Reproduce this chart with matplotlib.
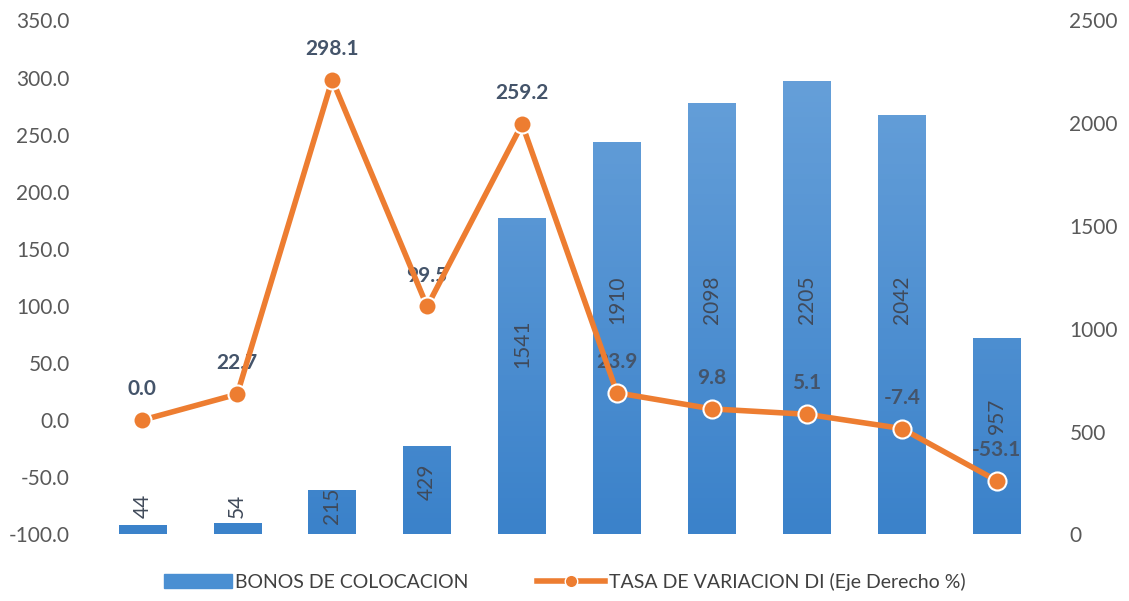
import numpy as np
import matplotlib.pyplot as plt
from matplotlib.colors import LinearSegmentedColormap
from matplotlib.lines import Line2D
from matplotlib.patches import Patch

# data
categories = list(range(10))
bonos = [44, 54, 215, 429, 1541, 1910, 2098, 2205, 2042, 957]
tasa = [0.0, 22.7, 298.1, 99.5, 259.2, 23.9, 9.8, 5.1, -7.4, -53.1]

plt.rcParams['font.family'] = ['Lato', 'DejaVu Sans']

fig = plt.figure(figsize=(11.29, 6.01), dpi=100)
ax = fig.add_axes([0.084, 0.111, 0.841, 0.855])   # left axis: tasa
ax2 = ax.twinx()                                   # right axis: bonos

# bars on right axis, with a light-to-dark gradient like the original
grad = LinearSegmentedColormap.from_list('bl', ['#3B82CA', '#6BA3DB'])
bars = ax2.bar(categories, bonos, width=0.5, color='#4A8FD2', zorder=1)
for b in bars:
    x0, w = b.get_x(), b.get_width()
    im = ax2.imshow(np.linspace(0, 1, 100).reshape(-1, 1), cmap=grad,
                    extent=[x0, x0 + w, 0, 2500], origin='lower',
                    aspect='auto', zorder=1.5)
    im.set_clip_path(b)
for x, v in zip(categories, bonos):
    ypos = max(min(v * 0.6, 1140), 140)
    ax2.text(x, ypos, str(v), rotation=90, ha='center', va='center',
             fontsize=15, color='#404a5a', zorder=3)
ax2.set_ylim(0, 2500)
ax2.set_xlim(-0.5, 9.5)
ax2.set_yticks(range(0, 2501, 500))

# line on left axis, drawn over the bars
ax.set_zorder(ax2.get_zorder() + 1)
ax.patch.set_visible(False)
ax.plot(categories, tasa, color='#ED7D31', lw=4, marker='o', ms=13,
        mfc='#ED7D31', mec='white', mew=1.5, zorder=4)
for x, v in zip(categories, tasa):
    ax.annotate(f'{v:.1f}', (x, v), xytext=(0, 15), textcoords='offset points',
                ha='center', va='bottom', fontsize=15, fontweight='bold',
                color='#44546A')
ax.set_ylim(-100, 350)
ax.set_yticks(range(-100, 351, 50))
ax.set_yticklabels([f'{t:.1f}' for t in range(-100, 351, 50)])
ax.set_xlim(-0.5, 9.5)
ax.set_xticks([])

for a in (ax, ax2):
    for s in a.spines.values():
        s.set_visible(False)
    a.tick_params(axis='y', length=0, labelsize=15, labelcolor='#595959', pad=18)

handles = [Patch(color='#4A8FD2'),
           Line2D([], [], color='#ED7D31', lw=4, marker='o', ms=9,
                  mfc='#ED7D31', mec='white')]
fig.legend(handles, ['BONOS DE COLOCACION', 'TASA DE VARIACION DI (Eje Derecho %)'],
           loc='lower center', bbox_to_anchor=(0.5, -0.012), ncol=2, frameon=False,
           fontsize=14, labelcolor='#404040', handlelength=3.5, handletextpad=0.2,
           columnspacing=3.5)

fig.savefig('out.png', dpi=100)
